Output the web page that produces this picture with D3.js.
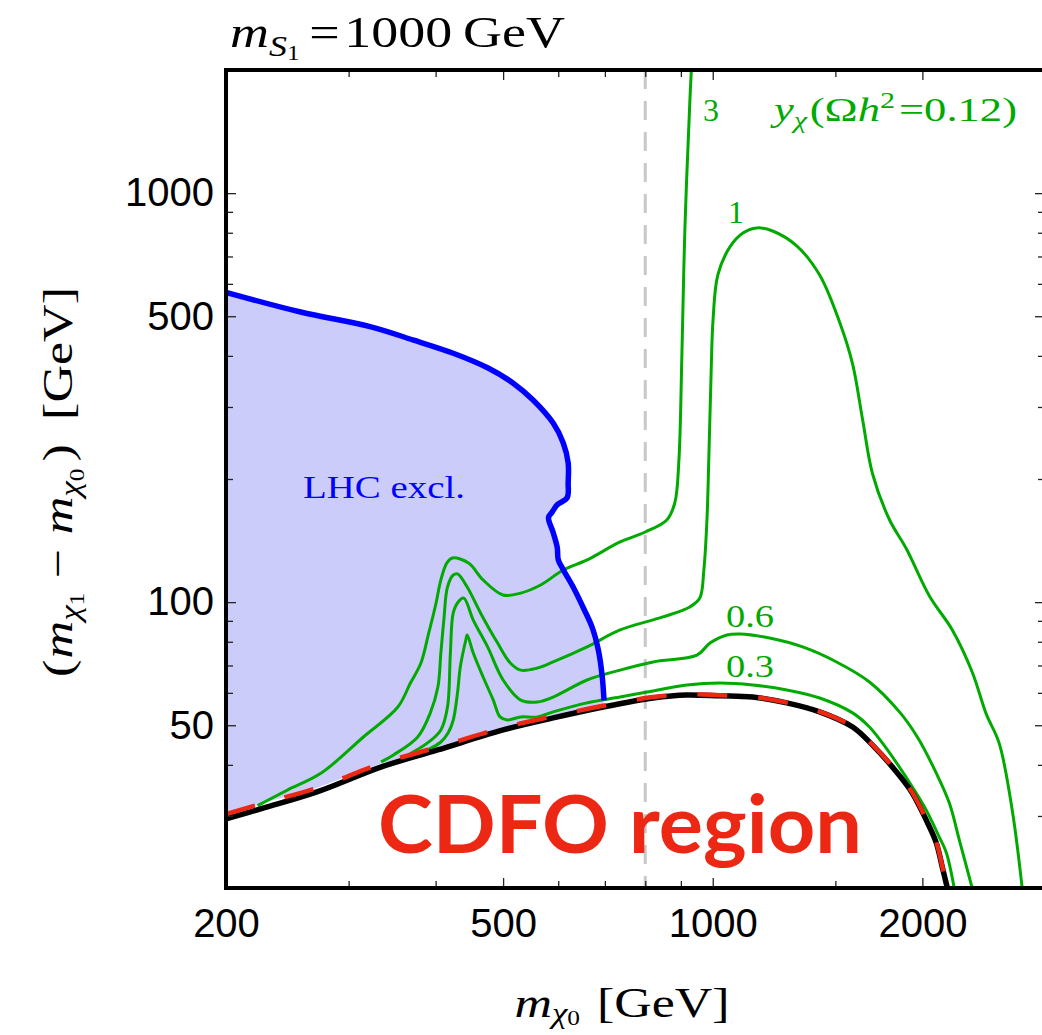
<!DOCTYPE html>
<html>
<head>
<meta charset="utf-8">
<script src="https://cdn.jsdelivr.net/npm/d3@7"></script>
<style>
  html, body { margin: 0; padding: 0; background: #fff; overflow: hidden; }
</style>
</head>
<body>
<svg id="chart" width="1042" height="1035"></svg>
<script>
// Contour plot of (m_chi1 - m_chi0) vs m_chi0 at m_S1 = 1000 GeV.
// Points are [m_chi0 (GeV), m_chi1 - m_chi0 (GeV)].

const X_DOMAIN = [200, 3000];
const Y_DOMAIN = [20, 2000];

const xTicks = [200, 300, 400, 500, 600, 700, 800, 900, 1000, 1500, 2000, 3000];
const xTickLabels = [200, 500, 1000, 2000];
const yTicks = [20, 30, 40, 50, 60, 70, 80, 90, 100, 200, 300, 400, 500, 600, 700, 800, 900, 1000, 2000];
const yTickLabels = [50, 100, 500, 1000];

// vertical reference line (m_chi0 = 800 GeV)
const refLineX = 800;

// CDFO boundary (solid black) and its red dashed companion
const blackCurve = [[200, 29.5], [226.7, 31.4], [270.8, 34.4], [333.6, 39.5], [402.6, 43.5], [500, 48.7],
  [590, 52.1], [696, 55.4], [821, 58.3], [918, 59.3], [1024, 59.0], [1141, 58.6], [1277, 56.7], [1424, 53.9],
  [1588, 49.5], [1696, 44.7], [1812, 39.5], [1929, 34.4], [2026, 29.3], [2094, 25.8], [2136, 22.5], [2172, 20]];

const redCurve = [[200, 30.3], [227, 32.3], [271, 35.2], [334, 40.3], [403, 44.2], [500, 49.3], [590, 52.6],
  [696, 55.8], [821, 58.6], [918, 59.5], [1024, 59.2], [1141, 58.7], [1277, 56.8], [1424, 54.0], [1588, 49.6],
  [1696, 44.8], [1812, 39.6], [1929, 34.5], [2026, 29.4], [2094, 25.9], [2136, 22.6], [2172, 20]];

// LHC exclusion boundary (blue)
const lhcCurve = [[200, 572], [256, 512], [323, 471], [372, 437], [424, 406], [475, 374], [517, 343], [552, 312],
  [590, 274], [610, 245], [620, 219], [620, 196], [618, 180], [598, 173], [588, 166], [581, 161], [590, 148],
  [598, 136], [600, 127], [610, 120], [630, 109], [651, 97.3], [671, 86.9], [685, 76.4], [694, 65.6], [698, 57.5]];

// y_chi contours giving Omega h^2 = 0.12
const yChi3 = [[222, 31.8], [245, 34.7], [274, 38.2], [315, 46.8], [353, 55.4], [368, 63.4], [381, 71.0], [391, 84.1],
  [400, 98.4], [407, 113.3], [415, 124.6], [423, 128.2], [446, 124.6], [468, 113.3], [500, 104.1], [530, 105.2],
  [566, 110.1], [610, 119.8], [660, 126.8], [736, 140.3], [800, 148.4], [859, 158.8], [882, 174.7], [894, 221],
  [903, 402], [912, 817], [927, 1670], [933, 2100]];

const yChi1 = [[334, 40.7], [348, 42.3], [377, 46.8], [393, 53.6], [403, 62.0], [407, 75.1], [411, 90.4], [416, 108.9],
  [424, 116.5], [430, 117.2], [444, 108.9], [464, 94.1], [491, 79.4], [512, 71.0], [530, 68.2], [560, 69.0],
  [590, 71.4], [660, 77.7], [736, 85.5], [848, 92.0], [927, 97.3], [958, 102.3], [971, 119.8], [981, 158.8],
  [987, 222.6], [994, 349], [1001, 490], [1017, 631], [1058, 738], [1105, 799], [1157, 822], [1219, 808],
  [1320, 743], [1424, 631], [1521, 484], [1588, 382], [1641, 280], [1696, 206], [1794, 159], [1897, 135],
  [2047, 103.5], [2208, 85.5], [2358, 67.5], [2470, 53.3], [2578, 45.2], [2692, 31.0], [2782, 20]];

const yChi06 = [[365, 42.3], [389, 45.2], [407, 48.7], [416, 55.4], [420, 75.1], [424, 94.1], [431, 100.1],
  [439, 102.3], [453, 90.4], [475, 77.7], [500, 64.5], [530, 57.6], [560, 57.0], [590, 58.6], [660, 64.5],
  [736, 68.2], [821, 71.4], [949, 74.2], [991, 79.4], [1048, 83.1], [1094, 83.6], [1207, 81.7], [1346, 77.7],
  [1506, 71.4], [1679, 63.8], [1854, 53.9], [1967, 46.8], [2094, 38.2], [2186, 32.3], [2260, 26.2], [2358, 20]];

const yChi03 = [[389, 43.5], [407, 45.5], [417, 47.9], [424, 51.5], [430, 60.0], [434, 69.4], [442, 80.8],
  [444, 83.1], [453, 75.1], [468, 65.6], [484, 57.6], [495, 52.4], [507, 51.5], [530, 52.4], [560, 52.4],
  [590, 53.9], [660, 56.7], [736, 58.6], [805, 60.3], [918, 62.7], [1024, 63.4], [1141, 62.7], [1277, 61.0],
  [1424, 58.3], [1588, 53.6], [1679, 49.5], [1753, 45.2], [1854, 39.5], [1935, 35.3], [2026, 31.0],
  [2116, 26.6], [2165, 24.4], [2222, 20]];

const GREEN = '#00aa00';
const BLUE = '#0000ff';
const RED = '#ec2814';
const SERIF = "'Liberation Serif', 'DejaVu Serif', serif";
const SANS = "'Liberation Sans', Arial, sans-serif";

// plot frame in pixels
const L = 226, R = 1045, T = 70, B = 888;

const svg = d3.select('#chart');
svg.append('rect').attr('width', 1042).attr('height', 1035).attr('fill', '#fff');

const x = d3.scaleLog().domain(X_DOMAIN).range([L, R]);
const y = d3.scaleLog().domain(Y_DOMAIN).range([B, T]);

svg.append('clipPath').attr('id', 'plot-clip')
  .append('rect').attr('x', L).attr('y', T).attr('width', R - L).attr('height', B - T);

const plot = svg.append('g').attr('clip-path', 'url(#plot-clip)');

const line = d3.line()
  .x((d) => x(d[0]))
  .y((d) => y(d[1]))
  .curve(d3.curveCatmullRom.alpha(0.5));

// excluded region: under the blue boundary, above the CDFO line
const lhcEnd = lhcCurve[lhcCurve.length - 1][0];
const fillPts = lhcCurve.concat(redCurve.filter((d) => d[0] <= lhcEnd).reverse());
plot.append('path')
  .attr('d', d3.line().x((d) => x(d[0])).y((d) => y(d[1])).curve(d3.curveLinear)(fillPts) + 'Z')
  .attr('fill', '#ccccfa')
  .attr('stroke', 'none');

plot.append('line')
  .attr('x1', x(refLineX)).attr('x2', x(refLineX))
  .attr('y1', T).attr('y2', B)
  .attr('stroke', '#c8c8c8')
  .attr('stroke-width', 3)
  .attr('stroke-dasharray', '19,12');

[yChi3, yChi1, yChi06, yChi03].forEach((c) => {
  plot.append('path')
    .datum(c)
    .attr('d', line)
    .attr('fill', 'none')
    .attr('stroke', GREEN)
    .attr('stroke-width', 3)
    .attr('stroke-linejoin', 'round');
});

plot.append('path')
  .datum(lhcCurve)
  .attr('d', line)
  .attr('fill', 'none')
  .attr('stroke', BLUE)
  .attr('stroke-width', 5.5)
  .attr('stroke-linejoin', 'round');

plot.append('path')
  .datum(blackCurve)
  .attr('d', line)
  .attr('fill', 'none')
  .attr('stroke', '#000')
  .attr('stroke-width', 5.5);

plot.append('path')
  .datum(redCurve)
  .attr('d', line)
  .attr('fill', 'none')
  .attr('stroke', RED)
  .attr('stroke-width', 4.5)
  .attr('stroke-dasharray', '30,31');

// axes: inward ticks on all four sides, labels bottom/left only
function styleTicks(g, majors, inward, horizontal) {
  g.select('.domain').remove();
  g.selectAll('.tick line')
    .attr('stroke', '#222')
    .attr('stroke-width', 1.3)
    .attr(horizontal ? 'x2' : 'y2', (d) => (majors.includes(d) ? 10 : 7) * inward);
}

const gB = svg.append('g').attr('transform', `translate(0,${B})`)
  .call(d3.axisBottom(x).tickValues(xTicks).tickSizeInner(-10).tickSizeOuter(0).tickPadding(21)
    .tickFormat((d) => (xTickLabels.includes(d) ? d : '')));
styleTicks(gB, xTickLabels, -1, false);
gB.attr('font-family', SANS).attr('font-size', 40).selectAll('text').attr('fill', '#000');

const gT = svg.append('g').attr('transform', `translate(0,${T})`)
  .call(d3.axisTop(x).tickValues(xTicks).tickSizeInner(-10).tickSizeOuter(0).tickFormat(''));
styleTicks(gT, xTickLabels, 1, false);

const gL = svg.append('g').attr('transform', `translate(${L},0)`)
  .call(d3.axisLeft(y).tickValues(yTicks).tickSizeInner(-10).tickSizeOuter(0).tickPadding(12)
    .tickFormat((d) => (yTickLabels.includes(d) ? d : '')));
styleTicks(gL, yTickLabels, 1, true);
gL.attr('font-family', SANS).attr('font-size', 40).selectAll('text').attr('fill', '#000');

const gR = svg.append('g').attr('transform', `translate(${R},0)`)
  .call(d3.axisRight(y).tickValues(yTicks).tickSizeInner(-10).tickSizeOuter(0).tickFormat(''));
styleTicks(gR, yTickLabels, -1, true);

svg.append('rect')
  .attr('x', L).attr('y', T).attr('width', R - L).attr('height', B - T)
  .attr('fill', 'none').attr('stroke', '#000').attr('stroke-width', 4);

// math-ish labels built from tspans; textLength widens Liberation Serif
// toward the Computer Modern proportions of the original
function mathText(parent, parts, attrs) {
  const t = parent.append('text');
  Object.entries(attrs).forEach(([k, v]) => t.attr(k, v));
  parts.forEach((p) => {
    const s = t.append('tspan').text(p.t);
    if (p.i) s.attr('font-style', 'italic');
    if (p.s) s.attr('font-size', p.s);
    if (p.dy) s.attr('dy', p.dy);
    if (p.dx) s.attr('dx', p.dx);
  });
  return t;
}

mathText(svg, [
  { t: 'm', i: 1 }, { t: 'S', i: 1, s: 30, dy: 9 }, { t: '1', s: 21, dy: 4 },
  { t: '=', dy: -13, dx: 8 }, { t: '1000', dx: 4 }, { t: 'GeV', dx: 9 },
], { x: 230, y: 47, 'font-family': SERIF, 'font-size': 45, fill: '#000',
  textLength: 335, lengthAdjust: 'spacingAndGlyphs' });

mathText(svg, [
  { t: '(' }, { t: 'm', i: 1, dx: 1 }, { t: 'χ', i: 1, s: 29, dy: 8 }, { t: '1', s: 21, dy: 4 },
  { t: '−', dy: -12, dx: 12 }, { t: 'm', i: 1, dx: 12 }, { t: 'χ', i: 1, s: 29, dy: 8 }, { t: '0', s: 21, dy: 4 },
  { t: ')', dy: -12, dx: 6 }, { t: '[GeV]', dx: 20 },
], { transform: 'translate(72,482) rotate(-90)', 'text-anchor': 'middle', 'font-family': SERIF,
  'font-size': 43, fill: '#000', textLength: 390, lengthAdjust: 'spacingAndGlyphs' });

mathText(svg, [
  { t: 'm', i: 1 }, { t: 'χ', i: 1, s: 29, dy: 6 }, { t: '0', s: 21, dy: 2 }, { t: '[GeV]', dy: -8, dx: 14 },
], { x: 622, y: 1017, 'text-anchor': 'middle', 'font-family': SERIF, 'font-size': 43, fill: '#000',
  textLength: 215, lengthAdjust: 'spacingAndGlyphs' });

// contour labels
const labels = svg.append('g').attr('font-family', SERIF).attr('fill', GREEN).attr('font-size', 32);
labels.append('text').attr('x', 703).attr('y', 121).attr('textLength', 17).text('3');
labels.append('text').attr('x', 728).attr('y', 223).attr('textLength', 14).text('1');
labels.append('text').attr('x', 726).attr('y', 627).attr('textLength', 48)
  .attr('lengthAdjust', 'spacingAndGlyphs').text('0.6');
labels.append('text').attr('x', 726).attr('y', 677).attr('textLength', 48)
  .attr('lengthAdjust', 'spacingAndGlyphs').text('0.3');
mathText(labels, [
  { t: 'y', i: 1 }, { t: 'χ', i: 1, s: 23, dy: 7 }, { t: '(Ω', dy: -7, dx: 2 }, { t: 'h', i: 1 },
  { t: '2', s: 23, dy: -13 }, { t: '=0.12)', dy: 13, dx: 3 },
], { x: 774, y: 121, 'font-size': 34, textLength: 243, lengthAdjust: 'spacingAndGlyphs' });

svg.append('text')
  .attr('x', 303).attr('y', 498)
  .attr('font-family', SERIF).attr('font-size', 32).attr('fill', BLUE)
  .attr('textLength', 162).attr('lengthAdjust', 'spacingAndGlyphs')
  .text('LHC excl.');

svg.append('text')
  .attr('x', 378).attr('y', 853)
  .attr('font-family', "Lato, 'Open Sans', sans-serif").attr('font-weight', 700)
  .attr('font-size', 80).attr('fill', RED)
  .attr('textLength', 484).attr('lengthAdjust', 'spacingAndGlyphs')
  .text('CDFO region');
</script>
</body>
</html>
